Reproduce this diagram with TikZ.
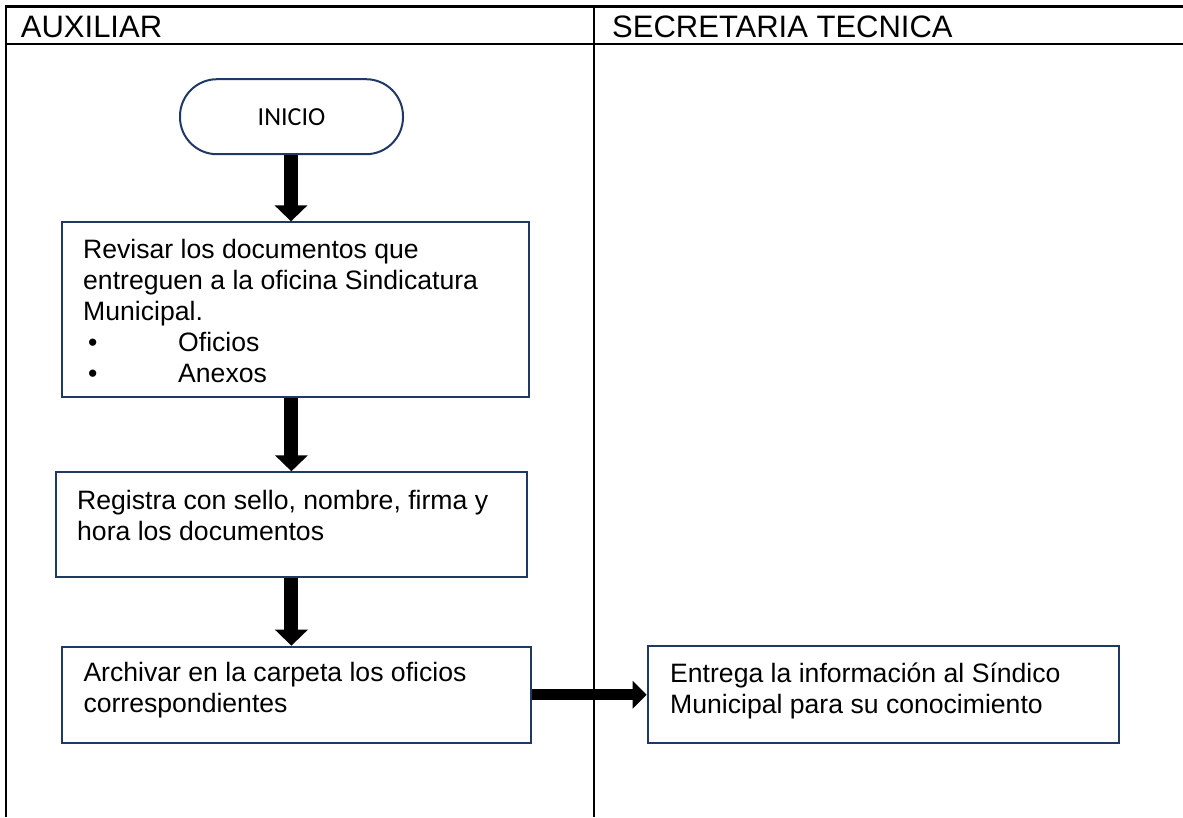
\documentclass[tikz,border=0pt]{standalone}
\usepackage{fontspec}
\setmainfont{Liberation Sans}
\newfontfamily\calibrifont{Carlito}
\usetikzlibrary{arrows.meta}
\definecolor{navy}{RGB}{31,56,100}

\begin{document}
\begin{tikzpicture}[x=1pt,y=-1pt,
  box/.style={draw=navy,line width=2pt,inner sep=0pt},
  txt/.style={anchor=base west,align=left,inner sep=0pt,font=\fontsize{26.6}{31}\selectfont},
  head/.style={anchor=base west,inner sep=0pt,font=\fontsize{31}{36}\selectfont},
  flow/.style={black,line width=14pt,-{Triangle[width=32pt,length=16pt]}},
  flowh/.style={black,line width=11.5pt,-{Triangle[width=27pt,length=14pt]}}]
\useasboundingbox (0,0) rectangle (1183,817);
\draw [black,line width=2.7pt] (5.7,6.7) -- (1183,6.7);
\draw [black,line width=2.7pt] (5.7,44) -- (1183,44);
\draw [black,line width=2pt] (5.7,5.4) -- (5.7,817);
\draw [black,line width=2pt] (594,5.4) -- (594,817);
\node [head] (aux) at (20.7,37.3) {AUXILIAR};
\node [head] (sec) at (612,37.3) {SECRETARIA TECNICA};
\node [box,rounded corners=37pt,minimum width=223pt,minimum height=75pt,font=\calibrifont\fontsize{26}{31}\selectfont] (inicio) at (291.5,116.7) {INICIO};
\node [box,minimum width=467pt,minimum height=174.7pt] (revisar) at (295.5,309.7) {};
\node [box,minimum width=471.3pt,minimum height=104.4pt] (registra) at (291.4,524.5) {};
\node [box,minimum width=469pt,minimum height=96pt] (archivar) at (296.5,694.7) {};
\node [box,minimum width=471pt,minimum height=96.5pt] (entrega) at (883.2,694.3) {};
\node [txt] (revisartxt) at (83,382.3) {Revisar los documentos que\\entreguen a la oficina Sindicatura\\Municipal.\\\hspace*{5pt}\makebox[90pt][l]{•}Oficios\\\hspace*{5pt}\makebox[90pt][l]{•}Anexos};
\node [txt] (registratxt) at (77,540) {Registra con sello, nombre, firma y\\hora los documentos};
\node [txt] (archivartxt) at (83.3,712.7) {Archivar en la carpeta los oficios\\correspondientes};
\node [txt] (entregatxt) at (670,713.7) {Entrega la información al Síndico\\Municipal para su conocimiento};
\coordinate (axis) at (291,0);
\draw [flow] (inicio.south -| axis) -- (axis |- revisar.north);
\draw [flow] (registra.north |- revisar.south) -- (registra.north);
\draw [flow] (registra.south) -- (registra.south |- archivar.north);
\draw [flowh] (archivar.east) -- (archivar.east -| entrega.west);
\end{tikzpicture}
\end{document}
